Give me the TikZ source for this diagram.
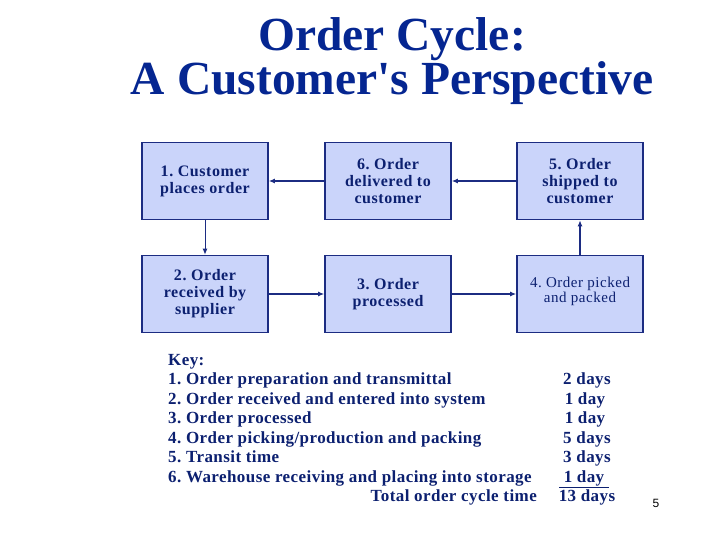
\documentclass[tikz,border=0pt]{standalone}
\usepackage{fontspec}
\setmainfont{Liberation Serif}
\newfontfamily\widefont[LetterSpace=2.5]{Liberation Serif}
\newfontfamily\boxfont[LetterSpace=3.5]{Liberation Serif}
\newfontfamily\numfont{Liberation Sans}
\usepackage{xcolor}
\usetikzlibrary{arrows.meta, positioning}
\definecolor{titleblue}{RGB}{5,38,145}
\definecolor{textblue}{RGB}{12,32,112}
\definecolor{boxblue}{RGB}{202,212,250}
\definecolor{edgeblue}{RGB}{28,44,130}
\frenchspacing

\begin{document}
\begin{tikzpicture}[
  x=1pt, y=-1pt,
  >={Latex[length=6pt,width=5pt]},
  stage/.style={draw=edgeblue, line width=1.6pt, fill=boxblue,
                minimum width=126pt, minimum height=77pt, inner sep=2pt,
                text=textblue, align=center,
                font=\boxfont\fontsize{16}{17}\selectfont\bfseries},
  arr/.style={draw=edgeblue, line width=1.6pt, ->},
  keyline/.style={anchor=base west, inner sep=0pt, text=textblue,
                  font=\widefont\fontsize{17}{19}\selectfont\bfseries},
  dayline/.style={anchor=base, inner sep=0pt, text=textblue,
                  font=\widefont\fontsize{17}{19}\selectfont\bfseries}
]
  \useasboundingbox (0,0) rectangle (720,540);
  % title
  \node[text=titleblue, align=center, inner sep=0pt,
        font=\fontsize{47.5}{43}\selectfont\bfseries] (title) at (392,61)
    {Order Cycle:\\A Customer\textquotesingle s Perspective};
  % the six stages
  \node[stage] (s1) at (205,181) {1. Customer\\places order};
  \node[stage] (s6) at (388,181) {6. Order\\delivered to\\customer};
  \node[stage] (s5) at (580,181) {5. Order\\shipped to\\customer};
  \node[stage] (s2) at (205,294) {2. Order\\received by\\supplier};
  \node[stage] (s3) at (388,294) {3. Order\\processed};
  \node[stage, font=\boxfont\fontsize{15}{15}\selectfont] (s4) at (580,294)
    {4. Order picked\\and packed\\[-6pt]};
  \draw[arr, line width=1pt] (s1) -- (s2);
  \draw[arr] (s2) -- (s3);
  \draw[arr] (s3) -- (s4);
  \draw[arr] (s4) -- (s5);
  \draw[arr] (s5) -- (s6);
  \draw[arr] (s6) -- (s1);
  % key
  \node[keyline] (key) at (168,365) {Key:};
  \node[keyline] (k1) at (168,384.5) {1. Order preparation and transmittal};
  \node[keyline] (k2) at (168,404) {2. Order received and entered into system};
  \node[keyline] (k3) at (168,423.5) {3. Order processed};
  \node[keyline] (k4) at (168,443) {4. Order picking/production and packing};
  \node[keyline] (k5) at (168,462.5) {5. Transit time};
  \node[keyline] (k6) at (168,482) {6. Warehouse receiving and placing into storage};
  \node[keyline, anchor=base east] (tot) at (537,501.5) {Total order cycle time};
  \node[dayline] (d1) at (587,384.5) {2 days};
  \node[dayline] (d2) at (585,404) {1 day};
  \node[dayline] (d3) at (585,423.5) {1 day};
  \node[dayline] (d4) at (587,443) {5 days};
  \node[dayline] (d5) at (587,462.5) {3 days};
  \node[dayline] (d6) at (584,482) {\underline{\ 1 day\ }};
  \node[dayline] (dt) at (587,501.5) {13 days};
  % slide number
  \node[text=black, inner sep=0pt, font=\numfont\fontsize{12}{14}\selectfont]
    (page) at (656,503) {5};
\end{tikzpicture}
\end{document}
